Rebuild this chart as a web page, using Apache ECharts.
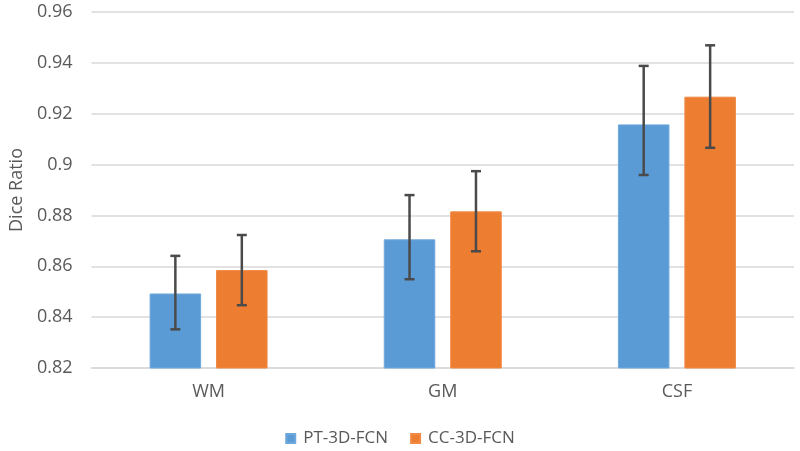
<!DOCTYPE html>
<html><head><meta charset="utf-8">
<script src="https://cdn.jsdelivr.net/npm/echarts@6/dist/echarts.min.js"></script>
<style>html,body{margin:0;padding:0;background:#fff}#c{width:800px;height:451px}</style>
</head><body><div id="c"></div>
<script>
const categories = ['WM', 'GM', 'CSF'];
const seriesNames = ['PT-3D-FCN', 'CC-3D-FCN'];
const ptValues = [0.8493, 0.8706, 0.9158];
const ccValues = [0.8585, 0.8816, 0.9267];
const ptErrPlus = [0.0148, 0.0174, 0.0230];
const ptErrMinus = [0.0141, 0.0157, 0.0199];
const ccErrPlus = [0.0138, 0.0158, 0.0202];
const ccErrMinus = [0.0138, 0.0157, 0.0201];
const yTicks = [0.82, 0.84, 0.86, 0.88, 0.9, 0.92, 0.94, 0.96];

const colors = ['#5B9BD5', '#ED7D31'];
const BAR_W = 0.22, GAP = 0.29;
const font = 'Open Sans';

function errSeries(vals, plus, minus, sign) {
  return {
    type: 'custom',
    silent: true,
    z: 10,
    data: vals.map((v, i) => [i, v - minus[i], v + plus[i]]),
    renderItem: function (params, api) {
      const band = api.size([1, 0])[0];
      const bw = band * BAR_W;
      const off = sign * (bw + bw * GAP) / 2;
      const lo = api.coord([api.value(0), api.value(1)]);
      const hi = api.coord([api.value(0), api.value(2)]);
      const x = lo[0] + off;
      const cap = 5;
      const st = { stroke: '#4A4A4A', lineWidth: 2.5 };
      return {
        type: 'group',
        children: [
          { type: 'line', shape: { x1: x, y1: lo[1], x2: x, y2: hi[1] }, style: st },
          { type: 'line', shape: { x1: x - cap, y1: lo[1], x2: x + cap, y2: lo[1] }, style: st },
          { type: 'line', shape: { x1: x - cap, y1: hi[1], x2: x + cap, y2: hi[1] }, style: st }
        ]
      };
    }
  };
}

const chart = echarts.init(document.getElementById('c'), null, { renderer: 'canvas' });
chart.setOption({
  animation: false,
  color: colors,
  grid: { left: 88, right: 6, top: 12, bottom: 83, containLabel: false },
  legend: {
    data: seriesNames,
    top: 425,
    left: 'center',
    icon: 'rect',
    itemWidth: 9,
    itemHeight: 9,
    itemGap: 22,
    textStyle: { color: '#595959', fontSize: 17, fontFamily: font, padding: [0, 0, 0, 3] }
  },
  xAxis: {
    type: 'category',
    data: categories,
    axisLine: { lineStyle: { color: '#D9D9D9', width: 1.5 } },
    axisTick: { show: false },
    axisLabel: { color: '#595959', fontSize: 18, fontFamily: font, margin: 15 }
  },
  yAxis: {
    type: 'value',
    min: 0.82,
    max: 0.96,
    interval: 0.02,
    name: 'Dice Ratio',
    nameLocation: 'middle',
    nameGap: 64,
    nameTextStyle: { color: '#595959', fontSize: 18, fontFamily: font },
    axisLine: { show: false },
    axisTick: { show: false },
    splitLine: { lineStyle: { color: '#D9D9D9', width: 1.5 } },
    axisLabel: {
      color: '#595959', fontSize: 18, fontFamily: font, margin: 19,
      formatter: function (v) {
        const t = yTicks.find(x => Math.abs(x - v) < 1e-9);
        return t !== undefined ? String(t) : '';
      }
    }
  },
  series: [
    { name: seriesNames[0], type: 'bar', data: ptValues, barWidth: (BAR_W * 100) + '%', barGap: (GAP * 100) + '%',
      itemStyle: { color: colors[0], borderColor: '#6FA8DC', borderWidth: 1 } },
    { name: seriesNames[1], type: 'bar', data: ccValues, barWidth: (BAR_W * 100) + '%', barGap: (GAP * 100) + '%',
      itemStyle: { color: colors[1], borderColor: '#F08A45', borderWidth: 1 } },
    errSeries(ptValues, ptErrPlus, ptErrMinus, -1),
    errSeries(ccValues, ccErrPlus, ccErrMinus, 1)
  ]
});
</script></body></html>
